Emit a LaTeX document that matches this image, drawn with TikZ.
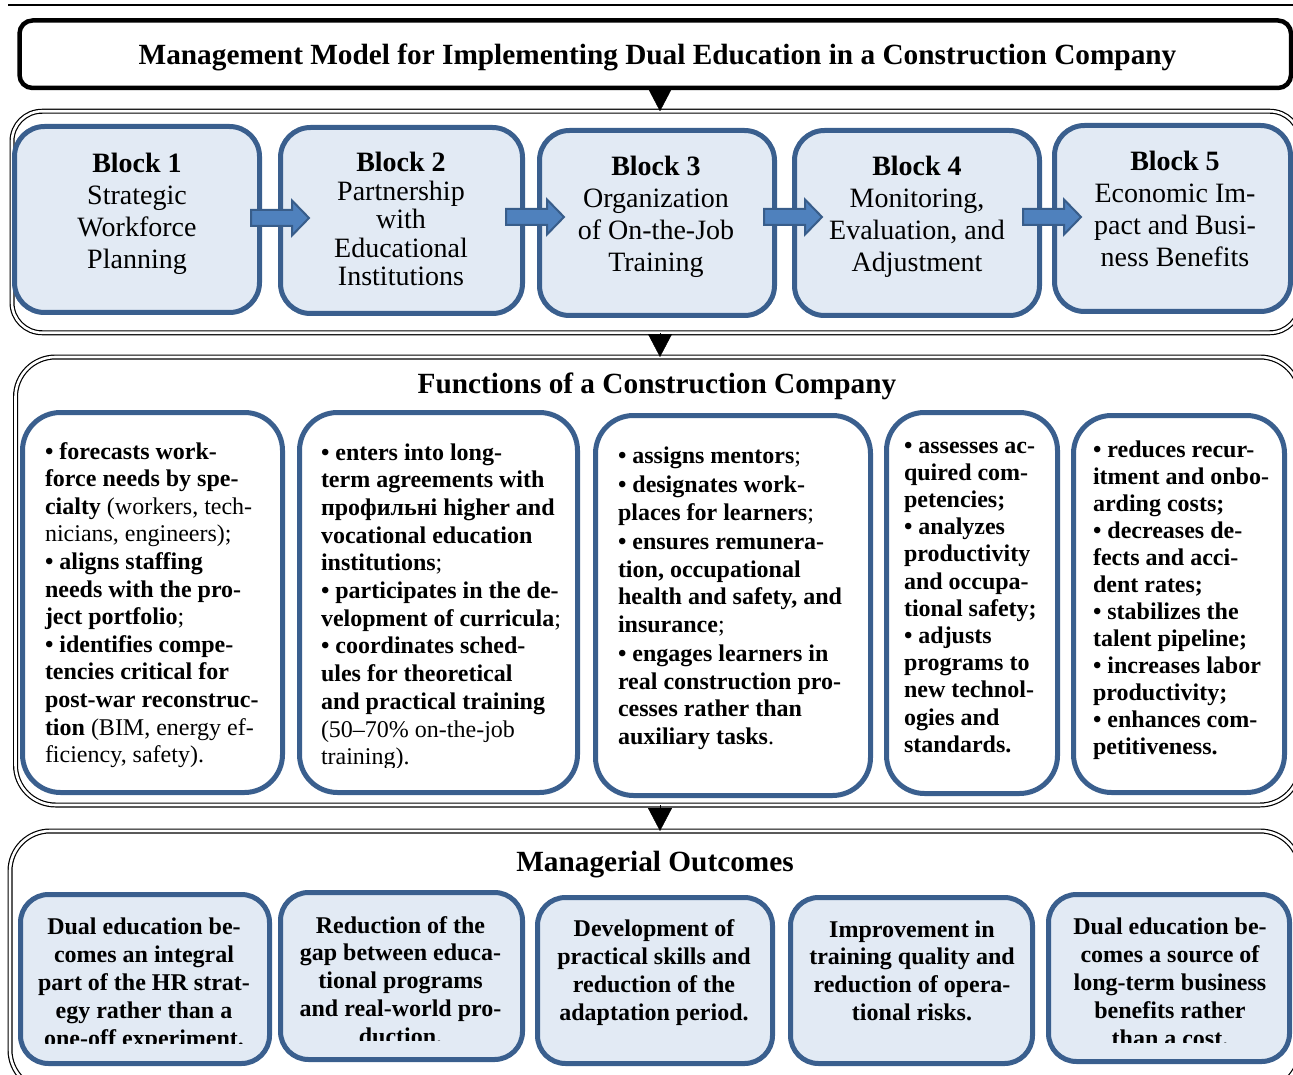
\documentclass[tikz,border=0pt]{standalone}
\usepackage{fontspec}
\setmainfont{Liberation Serif}
\usetikzlibrary{arrows.meta,calc}
\definecolor{boxblue}{RGB}{58,95,142}
\definecolor{boxfill}{RGB}{226,234,244}
\definecolor{arrfill}{RGB}{79,129,189}
\definecolor{arrline}{RGB}{56,93,138}

\begin{document}
\begin{tikzpicture}[x=1pt,y=-1pt,
  every node/.style={outer sep=0pt},
  titlebox/.style={draw=black, line width=4.5pt, rounded corners=13pt, inner sep=0pt},
  dframe/.style={draw=black, double=white, double distance=2.6pt, line width=1.2pt,
    rounded corners=#1, inner sep=0pt},
  blockbox/.style={draw=boxblue, line width=5pt, fill=boxfill, rounded corners=30pt, inner sep=0pt},
  funcbox/.style={draw=boxblue, line width=5pt, fill=white, rounded corners=38pt, inner sep=0pt},
  outbox/.style={draw=boxblue, line width=5pt, fill=boxfill, rounded corners=28pt, inner sep=0pt},
  btext/.style={font=\fontsize{28}{#1}\selectfont, align=center, anchor=north, inner sep=0pt},
  ftext/.style={font=\fontsize{24}{#1}\selectfont\bfseries, align=left, anchor=north west, inner sep=0pt},
  otext/.style={font=\fontsize{24}{27.8}\selectfont\bfseries, align=center, anchor=north, inner sep=0pt},
  headtext/.style={font=\fontsize{29.3}{34}\selectfont\bfseries, anchor=base, inner sep=0pt},
  downtri/.style={draw=black, line width=0.4pt, -{Triangle[length=23pt,width=24pt]}},
  fatarrow/.pic={
    \draw[draw=arrline, fill=arrfill, line width=2pt, line join=miter]
      (-29,-8) -- (12,-8) -- (12,-17.5) -- (29,0) -- (12,17.5) -- (12,8) -- (-29,8) -- cycle;
  }
]
\useasboundingbox (0,0) rectangle (1293,1075);

% top rule
\draw[line width=2pt] (8,5) -- (1293,5);

% heading box
\node[titlebox, minimum width=1271.5pt, minimum height=67.5pt] (title) at (655.25,54.25) {};
\node[headtext] (ttl) at (657.5,65)
  {Management Model for Implementing Dual Education in a Construction Company};

% outer double frames
\node[dframe=30pt, minimum width=1288pt, minimum height=221.5pt] (bframe) at (656,222) {};
\node[dframe=40pt, minimum width=1284.5pt, minimum height=448pt] (fframe) at (657.75,581) {};
\node[dframe=40pt, minimum width=1290pt, minimum height=259pt] (oframe) at (655,960.5) {};

\coordinate (axis) at (660,0);
\draw[downtri] (title.south -| axis) -- (bframe.north -| axis);
\draw[downtri] (bframe.south -| axis) -- (fframe.north -| axis);
\draw[downtri] (fframe.south -| axis) -- (oframe.north -| axis);

% ---------- blocks ----------
\node[blockbox, minimum width=245pt, minimum height=186pt] (b1) at (137,219.5) {};
\node[blockbox, minimum width=242pt, minimum height=186pt] (b2) at (401.5,220.5) {};
\node[blockbox, minimum width=235pt, minimum height=185pt] (b3) at (657,223) {};
\node[blockbox, minimum width=245pt, minimum height=185pt] (b4) at (917,223) {};
\node[blockbox, minimum width=236pt, minimum height=186pt] (b5) at (1172.5,218.5) {};

\pic at (280,218) {fatarrow};
\pic at (535,217) {fatarrow};
\pic at (793,217) {fatarrow};
\pic at (1052,217) {fatarrow};

\node[btext=31.8] (b1t) at (137,150.4)
  {\strut\textbf{Block 1}\\Strategic\\Workforce\\Planning};
\node[btext=28.5] (b2t) at (401,152)
  {\strut\textbf{Block 2}\\Partnership\\with\\Educational\\Institutions};
\node[btext=32.3] (b3t) at (656,152.4)
  {\strut\textbf{Block 3}\\Organization\\of On-the-Job\\Training};
\node[btext=32.3] (b4t) at (917,152.4)
  {\strut\textbf{Block 4}\\Monitoring,\\Evaluation, and\\Adjustment};
\node[btext=32] (b5t) at (1175,148.3)
  {\strut\textbf{Block 5}\\Economic Im-\\pact and Busi-\\ness Benefits};

% ---------- functions ----------
\node[headtext] (fhead) at (657,393.3) {Functions of a Construction Company};

\node[funcbox, minimum width=260pt, minimum height=380pt] (f1) at (152.5,602.5) {};
\node[funcbox, minimum width=278pt, minimum height=380pt] (f2) at (438.5,602.5) {};
\node[funcbox, minimum width=275pt, minimum height=380pt] (f3) at (733,605.5) {};
\node[funcbox, minimum width=171pt, minimum height=381pt] (f4) at (972,603) {};
\node[funcbox, minimum width=211pt, minimum height=377pt] (f5) at (1179,604) {};

\node[ftext=27.6] (f1t) at (45,439.7)
  {\strut\textbullet\ forecasts work-\\
   force needs by spe-\\
   cialty \textmd{(workers, tech-}\\
   \textmd{nicians, engineers);}\\
   \textbullet\ aligns staffing\\
   needs with the pro-\\
   ject portfolio\textmd{;}\\
   \textbullet\ identifies compe-\\
   tencies critical for\\
   post-war reconstruc-\\
   tion \textmd{(BIM, energy ef-}\\
   \textmd{ficiency, safety).}};

\begin{scope}
  \clip (0,0) rectangle (1293,767);
  \node[ftext=27.7] (f2t) at (321,440.7)
    {\strut\textbullet\ enters into long-\\
     term agreements with\\
     профильні higher and\\
     vocational education\\
     institutions\textmd{;}\\
     \textbullet\ participates in the de-\\
     velopment of curricula\textmd{;}\\
     \textbullet\ coordinates sched-\\
     ules for theoretical\\
     and practical training\\
     \textmd{(50–70\% on-the-job}\\
     \textmd{training).}};
\end{scope}

\node[ftext=27.5] (f3t) at (618,443.8)
  {\strut\textbullet\ assigns mentors\textmd{;}\\[2pt]
   \textbullet\ designates work-\\
   places for learners\textmd{;}\\[2pt]
   \textbullet\ ensures remunera-\\
   tion, occupational\\
   health and safety, and\\
   insurance\textmd{;}\\[2pt]
   \textbullet\ engages learners in\\
   real construction pro-\\
   cesses rather than\\
   auxiliary tasks\textmd{.}};

\node[ftext=27.2] (f4t) at (904,434)
  {\strut\textbullet\ assesses ac-\\
   quired com-\\
   petencies;\\
   \textbullet\ analyzes\\
   productivity\\
   and occupa-\\
   tional safety;\\
   \textbullet\ adjusts\\
   programs to\\
   new technol-\\
   ogies and\\
   standards.};

\node[ftext=27] (f5t) at (1093,439)
  {\strut\textbullet\ reduces recur-\\
   itment and onbo-\\
   arding costs;\\
   \textbullet\ decreases de-\\
   fects and acci-\\
   dent rates;\\
   \textbullet\ stabilizes the\\
   talent pipeline;\\
   \textbullet\ increases labor\\
   productivity;\\
   \textbullet\ enhances com-\\
   petitiveness.};

% ---------- outcomes ----------
\node[headtext] (ohead) at (655,871.7) {Managerial Outcomes};

\node[outbox, minimum width=249pt, minimum height=169pt] (o1) at (145,979) {};
\node[outbox, minimum width=242pt, minimum height=167pt] (o2) at (401.5,976) {};
\node[outbox, minimum width=235pt, minimum height=166pt] (o3) at (655,980.5) {};
\node[outbox, minimum width=242pt, minimum height=166pt] (o4) at (911.5,980.5) {};
\node[outbox, minimum width=241pt, minimum height=167pt] (o5) at (1169,978) {};

\begin{scope}
  \clip (0,0) rectangle (1293,1043);
  \node[otext] (o1t) at (144,915.5)
    {\strut Dual education be-\\comes an integral\\part of the HR strat-\\egy rather than a\\one-off experiment.};
\end{scope}
\begin{scope}
  \clip (0,0) rectangle (1293,1040);
  \node[otext] (o2t) at (400.5,913.6)
    {\strut Reduction of the\\gap between educa-\\tional programs\\and real-world pro-\\duction.};
\end{scope}
\node[otext] (o3t) at (654,917.5)
  {\strut Development of\\practical skills and\\reduction of the\\adaptation period.};
\node[otext] (o4t) at (912,917.6)
  {\strut Improvement in\\training quality and\\reduction of opera-\\tional risks.};
\begin{scope}
  \clip (0,0) rectangle (1293,1042);
  \node[otext] (o5t) at (1170,915.5)
    {\strut Dual education be-\\comes a source of\\long-term business\\benefits rather\\than a cost.};
\end{scope}
\end{tikzpicture}
\end{document}
